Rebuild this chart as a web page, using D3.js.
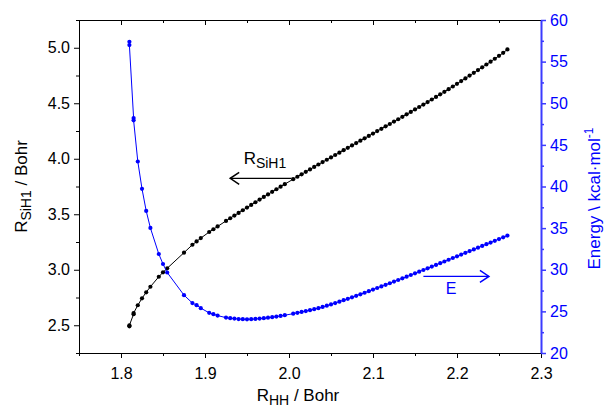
<!DOCTYPE html>
<html>
<head>
<meta charset="utf-8">
<script src="https://cdn.jsdelivr.net/npm/d3@7/dist/d3.min.js"></script>
<style>
  body { margin: 0; background: #fff; }
</style>
</head>
<body>
<div class="main"></div>
<script>
// Paramètres de la visualisation
const width = 608;
const height = 411;
const margin = { top: 20, right: 67, bottom: 58, left: 79 };
const bleu = '#0000ff';
const bleuAxe = '#3b3bff';
const police = '"Liberation Sans", Arial, sans-serif';

// Données
const rHH = [1.81, 1.81, 1.815, 1.815, 1.82, 1.825, 1.83, 1.835, 1.845, 1.85, 1.855, 1.875, 1.885, 1.89, 1.895,
  1.905, 1.91, 1.915,
  1.925, 1.93, 1.935, 1.94, 1.945, 1.95, 1.955, 1.96, 1.965, 1.97, 1.975, 1.98, 1.985, 1.99, 1.995,
  2.005, 2.01, 2.015, 2.02, 2.025, 2.03, 2.035, 2.04, 2.045, 2.05, 2.055, 2.06, 2.065, 2.07, 2.075, 2.08,
  2.085, 2.09, 2.095, 2.1, 2.105, 2.11, 2.115, 2.12, 2.125, 2.13, 2.135, 2.14, 2.145, 2.15, 2.155, 2.16,
  2.165, 2.17, 2.175, 2.18, 2.185, 2.19, 2.195, 2.2, 2.205, 2.21, 2.215, 2.22, 2.225, 2.23, 2.235, 2.24,
  2.245, 2.25, 2.255, 2.26];

const rSiH1 = [2.49, 2.50, 2.60, 2.61, 2.68, 2.743, 2.797, 2.847, 2.937, 2.977, 3.013, 3.154, 3.225, 3.255, 3.285,
  3.34, 3.365, 3.39,
  3.44, 3.464, 3.488, 3.512, 3.536, 3.56, 3.584, 3.608, 3.632, 3.656, 3.679, 3.702, 3.725, 3.748, 3.771,
  3.816, 3.838, 3.86, 3.882, 3.904, 3.926, 3.948, 3.97, 3.991, 4.012, 4.034, 4.055, 4.077, 4.098, 4.12, 4.141,
  4.163, 4.184, 4.206, 4.227, 4.249, 4.27, 4.292, 4.313, 4.335, 4.356, 4.378, 4.4, 4.422, 4.444, 4.466, 4.488,
  4.511, 4.534, 4.557, 4.58, 4.603, 4.627, 4.651, 4.675, 4.7, 4.724, 4.749, 4.774, 4.799, 4.824, 4.849, 4.875,
  4.901, 4.927, 4.954, 4.985];

const energie = [57.39, 56.99, 48.23, 47.95, 43.0, 39.72, 37.07, 35.02, 31.89, 30.69, 29.67, 26.95, 26.0, 25.75, 25.39,
  24.82, 24.66, 24.49,
  24.25, 24.18, 24.13, 24.08, 24.06, 24.05, 24.06, 24.09, 24.13, 24.18, 24.24, 24.3, 24.37, 24.45, 24.54,
  24.72, 24.82, 24.93, 25.04, 25.15, 25.27, 25.39, 25.53, 25.68, 25.84, 26.0, 26.17, 26.34, 26.51, 26.69, 26.87,
  27.05, 27.24, 27.43, 27.62, 27.81, 28.0, 28.19, 28.38, 28.58, 28.77, 28.97, 29.17, 29.37, 29.57, 29.77, 29.97,
  30.17, 30.38, 30.58, 30.79, 30.99, 31.2, 31.41, 31.61, 31.82, 32.03, 32.24, 32.44, 32.65, 32.86, 33.07, 33.27,
  33.48, 33.69, 33.9, 34.1];

const xTicks = [1.8, 1.9, 2.0, 2.1, 2.2, 2.3];
const xMinor = [1.75, 1.85, 1.95, 2.05, 2.15, 2.25];
const yTicks = [2.5, 3.0, 3.5, 4.0, 4.5, 5.0];
const yMinor = [2.25, 2.75, 3.25, 3.75, 4.25, 4.75, 5.25];
const eTicks = [20, 25, 30, 35, 40, 45, 50, 55, 60];
const eMinor = [22.5, 27.5, 32.5, 37.5, 42.5, 47.5, 52.5, 57.5];

const svg = d3.select('.main')
  .append('svg')
  .attr('width', width)
  .attr('height', height)
  .style('font-family', police)

// Échelles
const x = d3.scaleLinear()
  .domain([1.75, 2.3])
  .range([margin.left, width - margin.right])

const y = d3.scaleLinear()
  .domain([2.25, 5.25])
  .range([height - margin.bottom, margin.top])

const yE = d3.scaleLinear()
  .domain([20, 60])
  .range([height - margin.bottom, margin.top])

const points = rHH.map((d, i) => ({ x: d, r: rSiH1[i], e: energie[i] }));

// Axe horizontal (bas)
const bas = svg.append('g')
  .attr('transform', `translate(0, ${height - margin.bottom})`)
bas.call(d3.axisBottom(x).tickValues(xTicks).tickSize(5).tickSizeOuter(0).tickFormat(d3.format('.1f')))
bas.append('g').call(d3.axisBottom(x).tickValues(xMinor).tickSize(3).tickFormat(''))
  .call(g => g.select('.domain').remove())

// Axe du haut, graduations vers l'intérieur
const haut = svg.append('g')
  .attr('transform', `translate(0, ${margin.top})`)
haut.call(d3.axisBottom(x).tickValues(xTicks).tickSize(5).tickSizeOuter(0).tickFormat(''))
haut.append('g').call(d3.axisBottom(x).tickValues(xMinor).tickSize(3).tickFormat(''))
  .call(g => g.select('.domain').remove())

// Axe vertical gauche
const gauche = svg.append('g')
  .attr('transform', `translate(${margin.left}, 0)`)
gauche.call(d3.axisLeft(y).tickValues(yTicks).tickSize(5).tickSizeOuter(0).tickFormat(d3.format('.1f')))
gauche.append('g').call(d3.axisLeft(y).tickValues(yMinor).tickSize(3).tickFormat(''))
  .call(g => g.select('.domain').remove())

// Axe vertical droit (énergie)
const droite = svg.append('g')
  .attr('transform', `translate(${width - margin.right}, 0)`)
droite.call(d3.axisRight(yE).tickValues(eTicks).tickSize(5).tickSizeOuter(0))
droite.append('g').call(d3.axisRight(yE).tickValues(eMinor).tickSize(3).tickFormat(''))
  .call(g => g.select('.domain').remove())
droite.selectAll('.domain').attr('stroke', bleuAxe).attr('stroke-width', 2)
droite.selectAll('line').attr('stroke', bleuAxe).attr('stroke-width', 1.5)
droite.selectAll('text').attr('fill', bleu)

svg.selectAll('.tick text')
  .style('font-size', '16px')
  .style('font-family', police)
bas.selectAll('.tick text').attr('dy', '1.15em')
gauche.selectAll('.tick text').attr('x', -9)
droite.selectAll('.tick text').attr('x', 9)

// Courbe R_SiH1
const ligneR = d3.line().x(d => x(d.x)).y(d => y(d.r))
svg.append('path')
  .datum(points)
  .attr('fill', 'none')
  .attr('stroke', '#000')
  .attr('stroke-width', 1)
  .attr('d', ligneR)
svg.append('g')
  .selectAll('circle')
  .data(points)
  .enter()
  .append('circle')
  .attr('cx', d => x(d.x))
  .attr('cy', d => y(d.r))
  .attr('r', 2.1)
  .attr('fill', '#000')

// Courbe énergie
const ligneE = d3.line().x(d => x(d.x)).y(d => yE(d.e))
svg.append('path')
  .datum(points)
  .attr('fill', 'none')
  .attr('stroke', bleu)
  .attr('stroke-width', 1)
  .attr('d', ligneE)
svg.append('g')
  .selectAll('circle')
  .data(points)
  .enter()
  .append('circle')
  .attr('cx', d => x(d.x))
  .attr('cy', d => yE(d.e))
  .attr('r', 2.1)
  .attr('fill', bleu)

// Flèches d'annotation
const flecheR = { x0: 2.003, x1: 1.93, y: 3.824 };
const flecheE = { x0: 2.16, x1: 2.238, y: 29.2 };

svg.append('line')
  .attr('x1', x(flecheR.x0)).attr('x2', x(flecheR.x1))
  .attr('y1', y(flecheR.y)).attr('y2', y(flecheR.y))
  .attr('stroke', '#000').attr('stroke-width', 1.2)
svg.append('path')
  .attr('d', `M${x(flecheR.x1) + 9},${y(flecheR.y) - 6}L${x(flecheR.x1)},${y(flecheR.y)}L${x(flecheR.x1) + 9},${y(flecheR.y) + 6}`)
  .attr('fill', 'none').attr('stroke', '#000').attr('stroke-width', 1.5)

svg.append('line')
  .attr('x1', x(flecheE.x0)).attr('x2', x(flecheE.x1))
  .attr('y1', yE(flecheE.y)).attr('y2', yE(flecheE.y))
  .attr('stroke', bleu).attr('stroke-width', 1.2)
svg.append('path')
  .attr('d', `M${x(flecheE.x1) - 9},${yE(flecheE.y) - 6}L${x(flecheE.x1)},${yE(flecheE.y)}L${x(flecheE.x1) - 9},${yE(flecheE.y) + 6}`)
  .attr('fill', 'none').attr('stroke', bleu).attr('stroke-width', 1.5)

// Étiquettes des courbes
const etiqR = svg.append('text')
  .attr('x', x(1.946))
  .attr('y', y(3.824) - 14)
  .style('font-size', '17px')
etiqR.append('tspan').text('R')
etiqR.append('tspan').attr('dy', 4).style('font-size', '14px').text('SiH1')

svg.append('text')
  .attr('x', x(2.193))
  .attr('y', yE(29.2) + 18)
  .attr('text-anchor', 'middle')
  .attr('fill', bleu)
  .style('font-size', '16px')
  .text('E')

// Titres des axes
const titreX = svg.append('text')
  .attr('x', 298)
  .attr('y', 401)
  .attr('text-anchor', 'middle')
  .style('font-size', '17px')
titreX.append('tspan').text('R')
titreX.append('tspan').attr('dy', 4).style('font-size', '14px').text('HH')
titreX.append('tspan').attr('dy', -4).text(' / Bohr')

const titreY = svg.append('text')
  .attr('transform', `translate(27, ${(margin.top + height - margin.bottom) / 2}) rotate(-90)`)
  .attr('text-anchor', 'middle')
  .style('font-size', '17px')
titreY.append('tspan').text('R')
titreY.append('tspan').attr('dy', 4).style('font-size', '14px').text('SiH1')
titreY.append('tspan').attr('dy', -4).text(' / Bohr')

const titreE = svg.append('text')
  .attr('transform', `translate(600, ${(margin.top + height - margin.bottom) / 2 + 12}) rotate(-90)`)
  .attr('text-anchor', 'middle')
  .attr('fill', bleu)
  .style('font-size', '17px')
titreE.append('tspan').text('Energy \\ kcal·mol')
titreE.append('tspan').attr('dy', -7).style('font-size', '12px').text('-1')
</script>
</body>
</html>
